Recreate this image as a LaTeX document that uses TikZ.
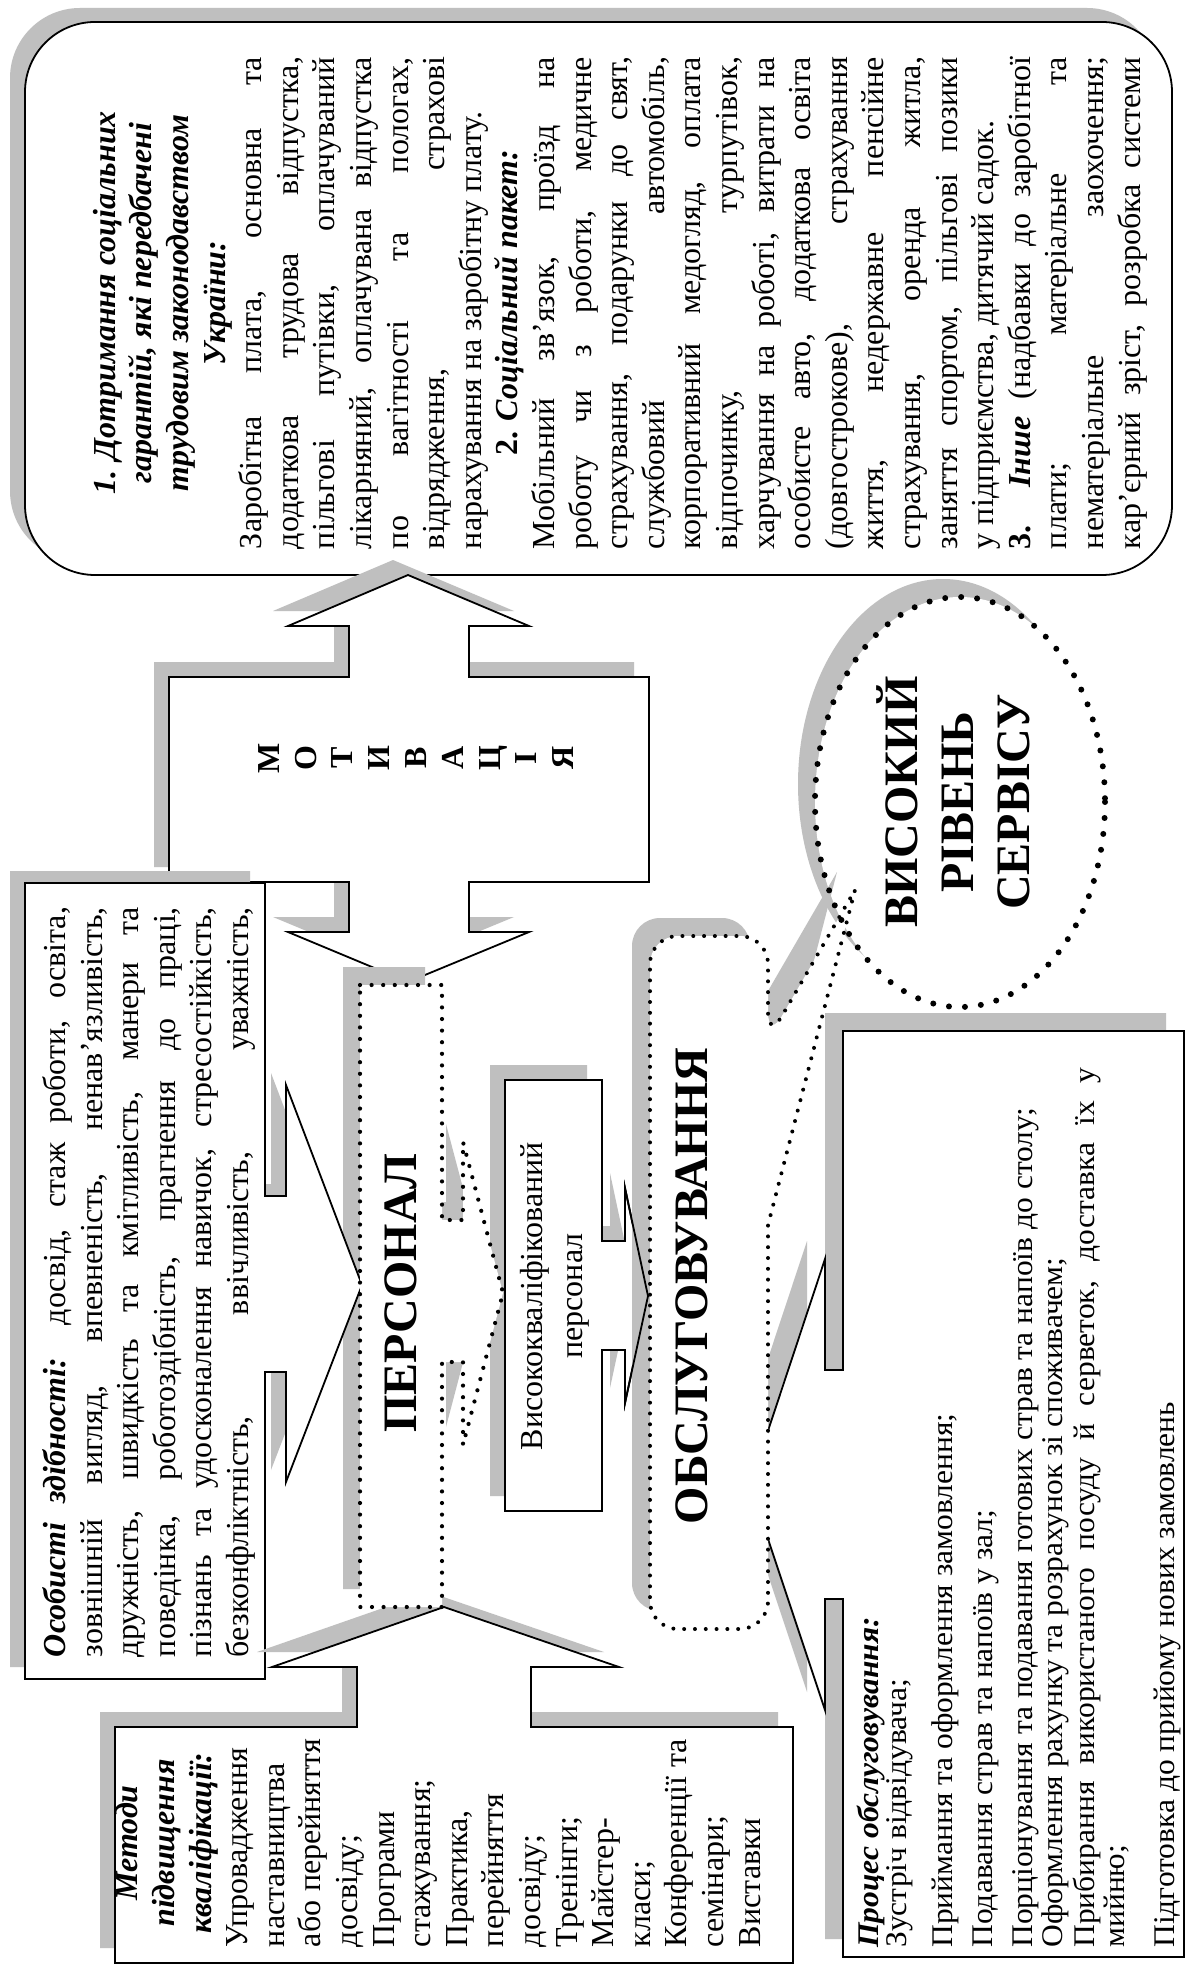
\documentclass[tikz,border=0pt]{standalone}
\usepackage{fontspec}
\setmainfont{Liberation Serif}
\newfontfamily\procfont[FakeStretch=1.05]{Liberation Serif}
\def\lw{246pt}
\newcommand{\myJ}[1]{\makebox[\lw][s]{#1}}
\newcommand{\myC}[1]{\makebox[\lw][c]{#1}}
\newcommand{\myL}[1]{\makebox[\lw][l]{#1}}
\newcommand{\mybi}[1]{\textbf{\textit{#1}}}
\newcommand{\normsp}{\spaceskip=0pt\xspaceskip=0pt\relax}
\begin{document}
\begin{tikzpicture}[x=0.5pt,y=-0.5pt,
  shd/.style={fill=black!25,draw=none},
  boxs/.style={fill=white,draw=black,line width=0.9pt,line join=miter},
  dotP/.style={draw=black,line width=2.1pt,dash pattern=on 0pt off 5.8pt,line cap=round},
  dotC/.style={draw=black,line width=2pt,dash pattern=on 0pt off 5.4pt,line cap=round},
  dotE/.style={draw=black,line width=3pt,dash pattern=on 0pt off 8pt,line cap=round},
  txt/.style={rotate=90,inner sep=0pt,font=\fontsize{16}{18.3}\selectfont},
  bigt/.style={rotate=90,inner sep=0pt,font=\bfseries\fontsize{24}{28}\selectfont},
  proc/.style={rotate=90,inner sep=0pt,anchor=mid west,font=\procfont\fontsize{15}{16}\selectfont}]
\useasboundingbox (0,0) rectangle (1188,1968);
\fill[white] (0,0) rectangle (1188,1968);

\def\pBig{(25,22) rectangle (1172,575)}
\def\pMot{(169,677) -- (349,677) -- (349,626) -- (288,626) -- (408,575) -- (529,626) -- (469,626) -- (469,677) -- (649,677) -- (649,882) -- (469,882) -- (469,932) -- (529,932) -- (408,982) -- (288,932) -- (349,932) -- (349,882) -- (169,882) -- cycle}
\def\pOsob{(25,883) -- (265,883) -- (265,1196) -- (286,1196) -- (286,1085) -- (362,1285) -- (286,1482) -- (286,1372) -- (265,1372) -- (265,1679) -- (25,1679) -- cycle}
\def\pMet{(115,1727) -- (357,1727) -- (357,1667) -- (272,1667) -- (444,1607) -- (619,1667) -- (531,1667) -- (531,1727) -- (793,1727) -- (793,1963) -- (115,1963) -- cycle}
\def\pPers{(360,985) -- (442,985) -- (442,1220) -- (463,1220) -- (463,1142) -- (503,1293) -- (463,1445) -- (463,1362) -- (442,1362) -- (442,1607) -- (360,1607) -- cycle}
\def\pVys{(505,1080) -- (602,1080) -- (602,1241) -- (625,1241) -- (625,1188) -- (648,1296) -- (625,1403) -- (625,1350) -- (602,1350) -- (602,1511) -- (505,1511) -- cycle}
\def\pProc{(843,1031) -- (1184,1031) -- (1184,1957) -- (843,1957) -- (843,1599) -- (825,1599) -- (825,1710) -- (750,1485) -- (825,1259) -- (825,1370) -- (843,1370) -- cycle}
\def\pCall{(650,1300) [rounded corners=14pt] -- (650,936) -- (768,936) -- (768,1040) [sharp corners] -- (855,890) -- (768,1225) [rounded corners=14pt] -- (768,1629) -- (650,1629) -- cycle}

\fill[shd,rounded corners=35pt,shift={(-15,-14)}] \pBig;
\filldraw[boxs,rounded corners=35pt] \pBig;
\fill[shd,shift={(-15,-15)}] \pMot;
\filldraw[boxs] \pMot;
\fill[shd,shift={(-17,-18)}] \pPers;
\fill[shd,shift={(-15,-12)}] \pOsob;
\filldraw[boxs] \pOsob;
\fill[shd,shift={(-15,-15)}] \pMet;
\filldraw[boxs] \pMet;
\fill[shd,shift={(-15,-15)}] \pVys;
\filldraw[boxs] \pVys;
\fill[white] \pPers;
\draw[dotP] \pPers;
\fill[shd,shift={(-18,-18)}] \pProc;
\filldraw[boxs] \pProc;
\fill[shd] (943,784) ellipse [x radius=145, y radius=205];
\fill[white] (960,802) ellipse [x radius=145, y radius=205];
\fill[shd,shift={(-18,-18)}] \pCall;
\draw[boxs,fill=none] \pVys;
\fill[white] \pCall;
\draw[dotC] \pCall;
\draw[dotE] (960,802) ellipse [x radius=145, y radius=205];

\def\lw{246pt}
\node[txt,text width=246pt,align=left] (soc) at (620,303) {\noindent\normsp
\myC{\mybi{1. Дотримання соціальних}}\\
\myC{\mybi{гарантій, які передбачені}}\\
\myC{\mybi{трудовим законодавством}}\\
\myC{\mybi{України:}}\\
\myJ{Заробітна плата, основна та}\\
\myJ{додаткова трудова відпустка,}\\
\myJ{пільгові путівки, оплачуваний}\\
\myJ{лікарняний, оплачувана відпустка}\\
\myJ{по вагітності та пологах,}\\
\myJ{відрядження, страхові}\\
\myL{нарахування на заробітну плату.}\\
\myC{\textbf{2. \textit{Соціальний пакет:}}}\\
\myJ{Мобільний зв'язок, проїзд на}\\
\myJ{роботу чи з роботи, медичне}\\
\myJ{страхування, подарунки до свят,}\\
\myJ{службовий автомобіль,}\\
\myJ{корпоративний медогляд, оплата}\\
\myJ{відпочинку, турпутівок,}\\
\myJ{харчування на роботі, витрати на}\\
\myJ{особисте авто, додаткова освіта}\\
\myJ{(довгострокове), страхування}\\
\myJ{життя, недержавне пенсійне}\\
\myJ{страхування, оренда житла,}\\
\myJ{заняття спортом, пільгові позики}\\
\myL{у підприємства, дитячий садок.}\\
\myJ{\textbf{3. \textit{Інше}} (надбавки до заробітної}\\
\myJ{плати; матеріальне та}\\
\myJ{нематеріальне заохочення;}\\
\myJ{кар’єрний зріст, розробка системи}};

\node[rotate=90,inner sep=0pt,align=center,font=\bfseries\fontsize{16}{18.4}\selectfont] (mot) at (416,758) {М\\О\\Т\\И\\В\\А\\Ц\\І\\Я};

\def\lw{375pt}
\node[txt,text width=375pt,align=left] (osob) at (149,1282) {\noindent\normsp
\myJ{\mybi{Особисті здібності:} досвід, стаж роботи, освіта,}\\
\myJ{зовнішній вигляд, впевненість, ненав'язливість,}\\
\myJ{дружність, швидкість та кмітливість, манери та}\\
\myJ{поведінка, роботоздібність, прагнення до праці,}\\
\myJ{пізнань та удосконалення навичок, стресостійкість,}\\
\myJ{безконфліктність, ввічливість, уважність,}};

\def\lw{104pt}
\node[txt,text width=104pt,align=left] (met) at (438,1843) {\noindent\normsp
\myC{\mybi{Методи}}\\
\myC{\mybi{підвищення}}\\
\myC{\mybi{кваліфікації:}}\\
\myL{Упровадження}\\
\myL{наставництва}\\
\myJ{або перейняття}\\
\myL{досвіду;}\\
\myL{Програми}\\
\myL{стажування;}\\
\myL{Практика,}\\
\myL{перейняття}\\
\myL{досвіду;}\\
\myL{Тренінги;}\\
\myL{Майстер-}\\
\myL{класи;}\\
\myJ{Конференції та}\\
\myL{семінари;}\\
\myL{Виставки}};

\node[bigt] (pers) at (401,1293) {ПЕРСОНАЛ};
\node[rotate=90,inner sep=0pt,align=center,font=\fontsize{16}{20}\selectfont] (vys) at (555,1296) {Висококваліфікований\\персонал};
\node[bigt] (obsl) at (692,1286) {ОБСЛУГОВУВАННЯ};
\node[bigt,align=center] (vrs) at (953,802) {ВИСОКИЙ\\РІВЕНЬ\\СЕРВІСУ};

\node[proc] (p1) at (874,1948) {\mybi{Процес обслуговування:}};
\node[proc] (p2) at (902,1948) {Зустріч відвідувача;};
\node[proc] (p3) at (948,1948) {Приймання та оформлення замовлення;};
\node[proc] (p4) at (988,1948) {Подавання страв та напоїв у зал;};
\node[proc] (p5) at (1028,1948) {Порціонування та подавання готових страв та напоїв до столу;};
\node[proc] (p6) at (1058,1948) {Оформлення рахунку та розрахунок зі споживачем;};
\node[proc] (p7) at (1090,1948) {\makebox[440pt][s]{Прибирання використаного посуду й серветок, доставка їх у}};
\node[proc] (p8) at (1120,1948) {мийню;};
\node[proc] (p9) at (1170,1948) {Підготовка до прийому нових замовлень};
\end{tikzpicture}
\end{document}
